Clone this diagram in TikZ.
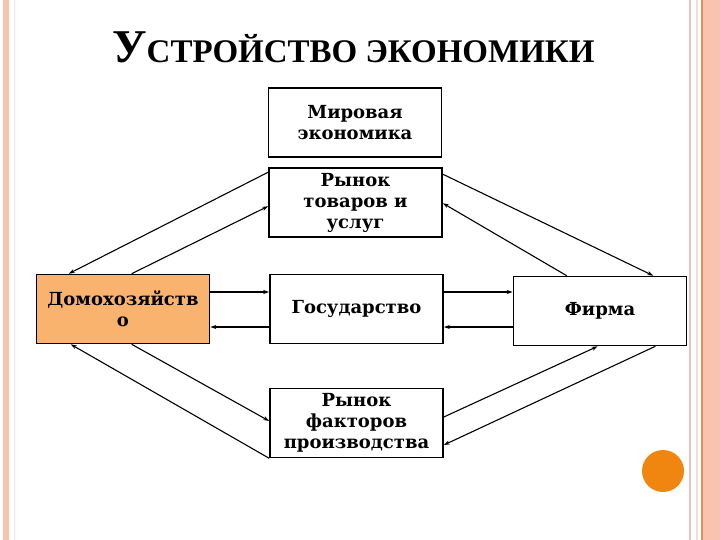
\documentclass[tikz,border=0pt]{standalone}
\usepackage{fontspec}
\setmainfont{DejaVu Serif}
\newfontfamily\titlefont{Liberation Serif}
\usetikzlibrary{arrows.meta}

\definecolor{housefill}{RGB}{249,179,110}
\definecolor{bandpink}{RGB}{248,196,176}
\definecolor{bandline}{RGB}{228,196,184}
\definecolor{bandorange}{RGB}{236,140,90}
\definecolor{dotorange}{RGB}{240,133,15}

\begin{document}
\begin{tikzpicture}[x=1pt,y=-1pt,>={Stealth[length=6pt,width=4pt]},
		box/.style={draw,line width=1.6pt,minimum width=173pt,minimum height=69pt,
			inner sep=1pt,align=center,font=\bfseries\fontsize{18}{21}\selectfont},
		flow/.style={->,line width=1.1pt}]
		\useasboundingbox (0,0) rectangle (720,540);
		% page frame
		\fill[bandpink] (3,0) rectangle (9,540);         % left band
		\draw[bandpink!40,line width=1pt] (14,0)--(14,540);
		\draw[bandline,line width=2pt] (690,0)--(690,540);
		\draw[bandline!60,line width=1.2pt] (697,0)--(697,540);
		\draw[bandorange,line width=1.2pt] (702,0)--(702,540);
		\fill[bandpink] (703,0) rectangle (720,540);     % right band
		% title
		\node[anchor=base west,inner sep=0] (title) at (112,63)
			{\titlefont\bfseries\fontsize{47}{47}\selectfont У\fontsize{33}{33}\selectfont СТРОЙСТВО ЭКОНОМИКИ};
		% boxes
		\node[box] (world)  at (355,122.5) {Мировая\\экономика};
		\node[box] (goods)  at (355.5,202.5) {Рынок\\товаров и\\услуг};
		\node[box,fill=housefill] (house) at (123,309) {Домохозяйств\\о};
		\node[box] (gov)    at (356.5,309) {Государство};
		\node[box] (firm)   at (600,311) {Фирма};
		\node[box] (factor) at (356.5,423) {Рынок\\факторов\\производства};
		% household <-> goods market
		\draw[flow] ([yshift=-5pt]goods.north west) -- ([xshift=33pt]house.north west);
		\draw[flow] ([xshift=96pt]house.north west) -- ([yshift=-39pt]goods.north west);
		% household <-> state
		\draw[flow] ([yshift=17pt]house.east) -- ([yshift=17pt]gov.west);
		\draw[flow] ([yshift=-18pt]gov.west) -- ([yshift=-18pt]house.east);
		% state <-> firm
		\draw[flow] ([yshift=17pt]gov.east) -- ([yshift=17pt]gov.east -| firm.west);
		\draw[flow] ([yshift=-18pt]gov.east -| firm.west) -- ([yshift=-18pt]gov.east);
		% goods market <-> firm
		\draw[flow] ([yshift=-7pt]goods.north east) -- ([xshift=-34pt]firm.north east);
		\draw[flow] ([xshift=54pt]firm.north west) -- ([yshift=-36pt]goods.north east);
		% household <-> factor market
		\draw[flow] ([xshift=96pt]house.south west) -- ([yshift=2pt]factor.west);
		\draw[flow] (factor.south west) -- ([xshift=35pt]house.south west);
		% factor market <-> firm
		\draw[flow] ([yshift=6pt]factor.east) -- ([xshift=85pt]firm.south west);
		\draw[flow] ([xshift=-32pt]firm.south east) -- ([yshift=-22pt]factor.east);
		% corner dot
		\fill[dotorange] (663,471) circle (21);
	\end{tikzpicture}
\end{document}
